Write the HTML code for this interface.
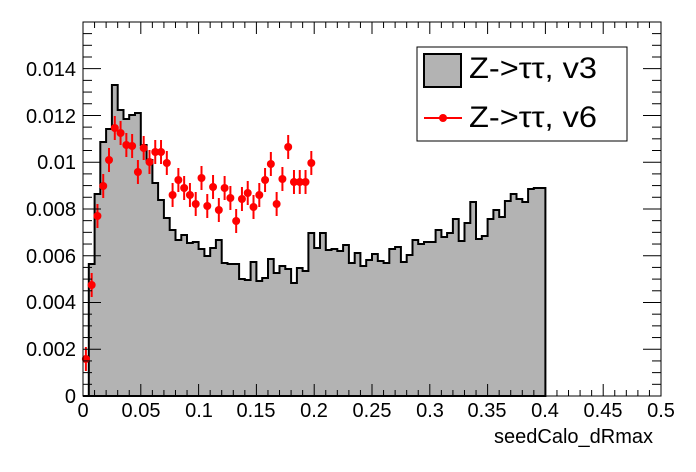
<!DOCTYPE html>
<html><head><meta charset="utf-8"><style>html,body{margin:0;padding:0;background:#fff}svg{display:block}</style></head>
<body>
<svg id="s" width="696" height="472" xmlns="http://www.w3.org/2000/svg" font-family="Liberation Sans, sans-serif">
<rect width="696" height="472" fill="#fff"/>
<g id="hist"></g>
<g id="pts"></g>
<g id="ticks" stroke="#000" stroke-width="1"></g>
<rect x="83" y="22" width="578" height="374" fill="none" stroke="#000" stroke-width="1"/>
<g font-size="20" text-anchor="end">
<text x="76" y="403">0</text>
<text x="76" y="356">0.002</text>
<text x="76" y="309">0.004</text>
<text x="76" y="263">0.006</text>
<text x="76" y="216">0.008</text>
<text x="76" y="169">0.01</text>
<text x="76" y="123">0.012</text>
<text x="76" y="76">0.014</text>
</g>
<g font-size="20" text-anchor="middle">
<text x="83" y="417">0</text>
<text x="141" y="417">0.05</text>
<text x="199" y="417">0.1</text>
<text x="256" y="417">0.15</text>
<text x="314" y="417">0.2</text>
<text x="372" y="417">0.25</text>
<text x="430" y="417">0.3</text>
<text x="487" y="417">0.35</text>
<text x="545" y="417">0.4</text>
<text x="603" y="417">0.45</text>
<text x="661" y="417">0.5</text>
</g>
<text x="653" y="443" font-size="20" text-anchor="end">seedCalo_dRmax</text>
<rect x="417" y="47" width="210" height="94" fill="#fff" stroke="#000" stroke-width="1"/>
<rect x="424" y="54" width="37" height="33" fill="#b3b3b3" stroke="#000" stroke-width="2"/>
<text x="469" y="78" font-size="30" textLength="128" lengthAdjust="spacingAndGlyphs">Z-&gt;ττ, v3</text>
<line x1="424" y1="118" x2="462" y2="118" stroke="#f00" stroke-width="2"/>
<circle cx="443" cy="118" r="4" fill="#f00"/>
<text x="469" y="127" font-size="30" textLength="128" lengthAdjust="spacingAndGlyphs">Z-&gt;ττ, v6</text>
</svg>
<script>
var H=[397,264,194,142,129,85,110,119,115,113,145,160,183,200,218,230,240,235,243,242,249,256,248,240,263,264,264,279,280,262,281,278,259,273,266,269,283,268,271,233,248,233,250,249,251,245,263,253,266,260,254,261,263,249,247,262,255,240,244,242,242,230,237,233,219,241,223,202,239,236,219,210,217,201,194,199,202,189,188,188];
var bw=578/100, x0=83, d="M83,396";
for(var i=0;i<H.length;i++){var a=x0+i*bw,b=a+bw,h=Math.min(H[i],396);d+=" L"+a.toFixed(1)+","+h+" L"+b.toFixed(1)+","+h;}
d+=" L"+(x0+80*bw).toFixed(1)+",396 Z";
var ns="http://www.w3.org/2000/svg";
function el(t,at,p){var e=document.createElementNS(ns,t);for(var k in at)e.setAttribute(k,at[k]);p.appendChild(e);return e;}
el("path",{d:d,fill:"#b3b3b3",stroke:"#000","stroke-width":2},document.getElementById("hist"));
var P=[359,285,216,186,160,128,133,145,146,172,148,162,152,152,163,195,180,188,195,204,178,206,187,210,188,198,221,199,193,207,195,180,164,204,179,147,182,182,182,163];
var g=document.getElementById("pts");
for(var i=0;i<P.length;i++){var x=x0+(i+0.5)*bw;el("line",{x1:x,x2:x,y1:P[i]-12,y2:Math.min(P[i]+12,396),stroke:"#f00","stroke-width":2},g);el("circle",{cx:x,cy:P[i],r:4,fill:"#f00"},g);}
var t=document.getElementById("ticks");
for(var i=0;i<=50;i++){var x=83+i*11.56,L=(i%5==0)?12:6;el("line",{x1:x,x2:x,y1:396,y2:396-L},t);el("line",{x1:x,x2:x,y1:22,y2:22+L},t);}
for(var i=0;i<=32;i++){var y=396-i*11.69;if(y<22)break;var L=(i%4==0)?18:9;el("line",{x1:83,x2:83+L,y1:y,y2:y},t);el("line",{x1:661,x2:661-L,y1:y,y2:y},t);}
</script>
</body></html>
